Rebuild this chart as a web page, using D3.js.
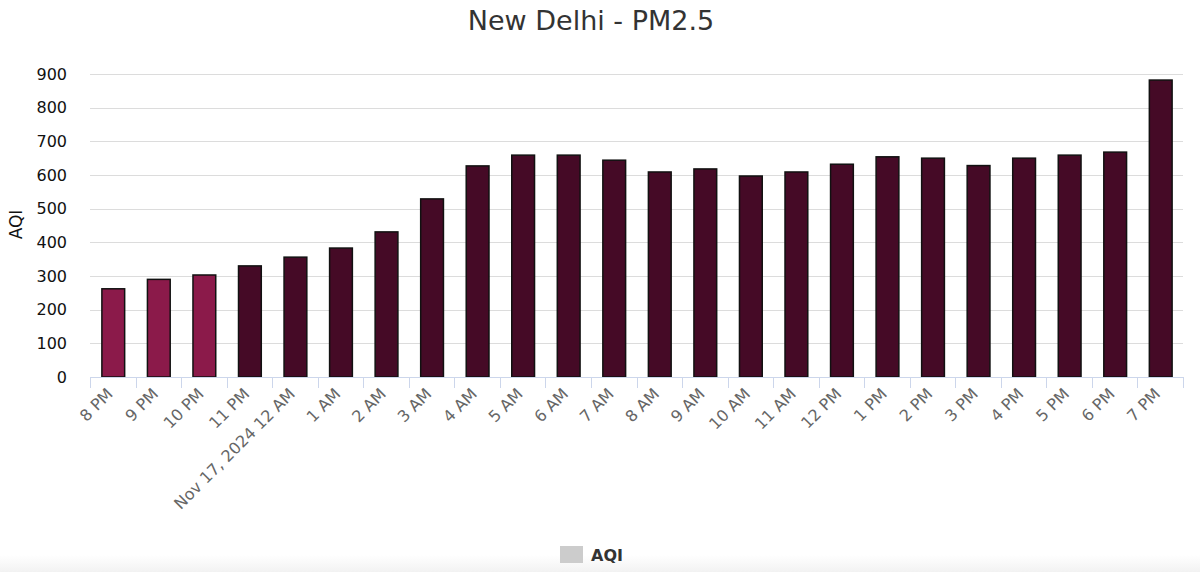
<!DOCTYPE html>
<html>
<head>
<meta charset="utf-8">
<script src="https://cdn.jsdelivr.net/npm/d3@7"></script>
<style>
  body { margin: 0; background: #fff; }
  svg { display: block; font-family: "DejaVu Sans", sans-serif; }
</style>
</head>
<body>
<svg id="chart"></svg>
<script>
const hours = ["8 PM", "9 PM", "10 PM", "11 PM", "Nov 17, 2024 12 AM", "1 AM", "2 AM", "3 AM",
  "4 AM", "5 AM", "6 AM", "7 AM", "8 AM", "9 AM", "10 AM", "11 AM", "12 PM",
  "1 PM", "2 PM", "3 PM", "4 PM", "5 PM", "6 PM", "7 PM"];
const aqiValues = [262, 290, 303, 330, 356, 383, 431, 529, 627, 659, 659, 644, 609, 618,
  597, 609, 632, 654, 650, 628, 650, 659, 668, 882];
const yTicks = [0, 100, 200, 300, 400, 500, 600, 700, 800, 900];

const width = 1200, height = 572;
const margin = { top: 74, right: 17, bottom: 195, left: 90 };

const svg = d3.select("#chart")
  .attr("width", width)
  .attr("height", height);

// faint grey band at the very bottom
const grad = svg.append("defs").append("linearGradient")
  .attr("id", "fade").attr("x1", 0).attr("y1", 0).attr("x2", 0).attr("y2", 1);
grad.append("stop").attr("offset", "0%").attr("stop-color", "#fff");
grad.append("stop").attr("offset", "100%").attr("stop-color", "#f2f2f2");
svg.append("rect").attr("x", 0).attr("y", 555).attr("width", width).attr("height", 17)
  .attr("fill", "url(#fade)");

const xScale = d3.scaleBand()
  .domain(hours)
  .range([margin.left, width - margin.right])
  .paddingInner(0.5)
  .paddingOuter(0.25);

const yScale = d3.scaleLinear()
  .domain([0, 900])
  .range([height - margin.bottom, margin.top]);

// gridlines
svg.append("g")
  .selectAll("line")
  .data(yTicks.filter(d => d > 0))
  .join("line")
  .attr("x1", margin.left)
  .attr("x2", width - margin.right)
  .attr("y1", d => Math.round(yScale(d)) + 0.5)
  .attr("y2", d => Math.round(yScale(d)) + 0.5)
  .attr("stroke", "#dcdcdc")
  .attr("stroke-width", 1);

// y axis labels
const yAxis = d3.axisLeft(yScale).tickValues(yTicks).tickSize(0).tickPadding(0);
const yAxisGroup = svg.append("g")
  .attr("transform", `translate(67,0)`)
  .call(yAxis);
yAxisGroup.select(".domain").remove();
yAxisGroup.selectAll("text")
  .attr("font-size", 16)
  .attr("font-family", "DejaVu Sans, sans-serif")
  .attr("fill", "#111");

svg.append("text")
  .attr("transform", `translate(22,${(margin.top + height - margin.bottom) / 2 - 1}) rotate(-90)`)
  .attr("text-anchor", "middle")
  .attr("font-size", 17)
  .attr("fill", "#111")
  .text("AQI");

// bars
svg.append("g")
  .selectAll("rect")
  .data(aqiValues)
  .join("rect")
  .attr("x", (d, i) => xScale(hours[i]) + 0.5)
  .attr("y", d => yScale(d))
  .attr("width", xScale.bandwidth())
  .attr("height", d => yScale(0) - yScale(d))
  .attr("fill", (d, i) => i < 3 ? "#8b1a4a" : "#450a26")
  .attr("stroke", "#111")
  .attr("stroke-width", 1.5);

// x axis
const step = xScale.step();
const axisY = height - margin.bottom;
const xAxisGroup = svg.append("g");
xAxisGroup.append("line")
  .attr("x1", margin.left).attr("x2", width - margin.right)
  .attr("y1", axisY + 0.5).attr("y2", axisY + 0.5)
  .attr("stroke", "#ccd6eb");
xAxisGroup.selectAll(".tick")
  .data(d3.range(hours.length + 1))
  .join("line")
  .attr("x1", i => Math.round(margin.left + i * step) + 0.5)
  .attr("x2", i => Math.round(margin.left + i * step) + 0.5)
  .attr("y1", axisY)
  .attr("y2", axisY + 11)
  .attr("stroke", "#ccd6eb");
xAxisGroup.selectAll("text")
  .data(hours)
  .join("text")
  .attr("transform", d => `translate(${xScale(d) + xScale.bandwidth() / 2 + 1},${axisY + 18}) rotate(-45)`)
  .attr("text-anchor", "end")
  .attr("font-size", 16)
  .attr("fill", "#666")
  .text(d => d);

// title
svg.append("text")
  .attr("x", width / 2 - 9)
  .attr("y", 30)
  .attr("text-anchor", "middle")
  .attr("font-size", 27)
  .attr("fill", "#333")
  .text("New Delhi - PM2.5");

// legend
const legend = svg.append("g").attr("transform", "translate(560,546)");
legend.append("rect")
  .attr("width", 23).attr("height", 17)
  .attr("fill", "#cccccc");
legend.append("text")
  .attr("x", 31).attr("y", 15)
  .attr("font-size", 16)
  .attr("font-weight", "bold")
  .attr("fill", "#333")
  .text("AQI");
</script>
</body>
</html>
